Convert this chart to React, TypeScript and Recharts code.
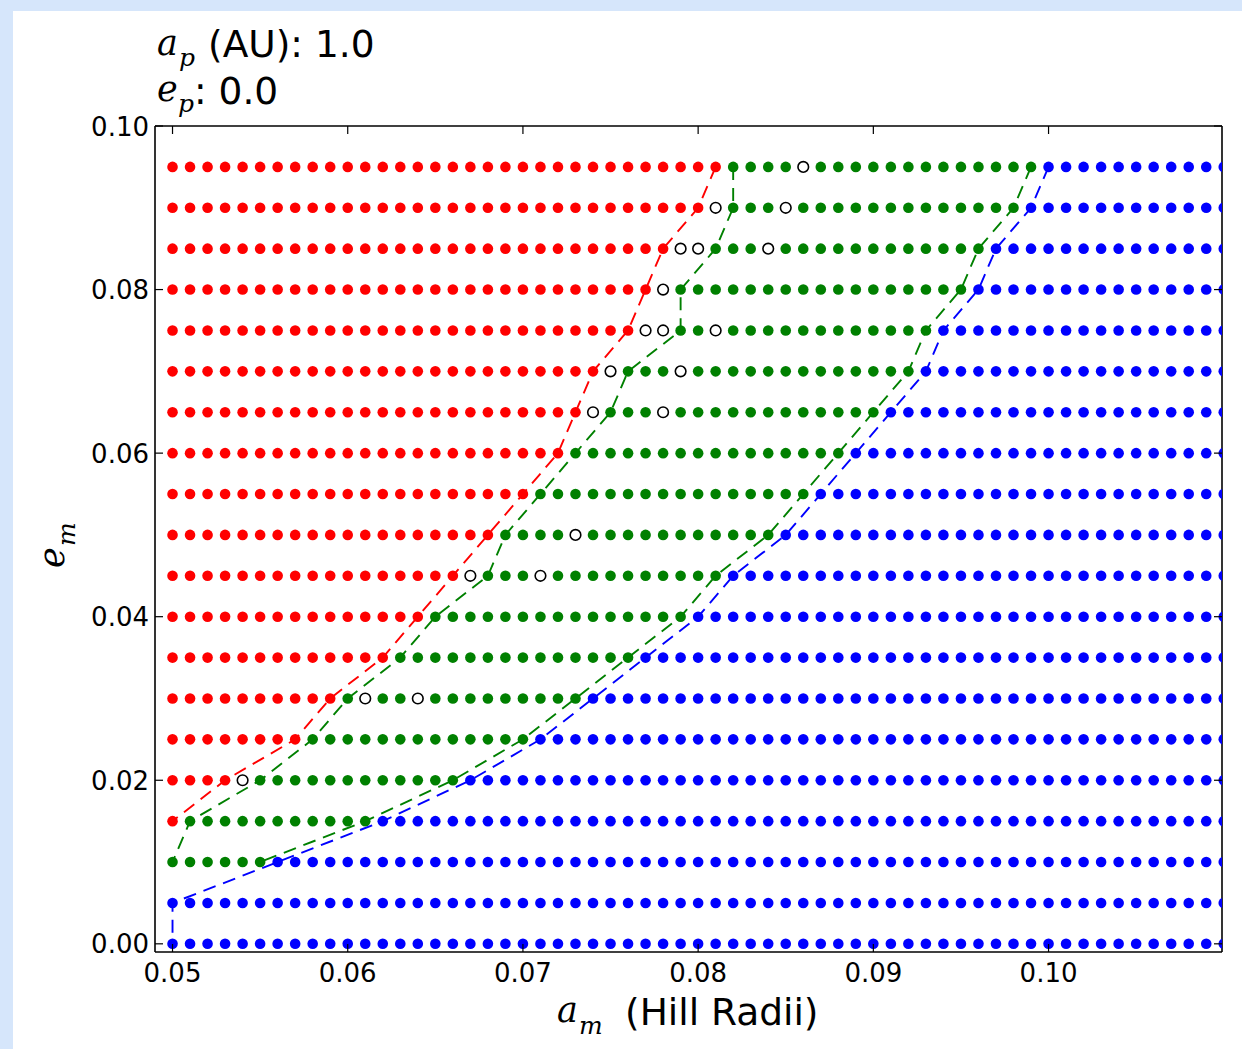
import { ScatterChart, Scatter, XAxis, YAxis } from 'recharts';

// eccentricity rows (top to bottom)
const eRows = [0.095, 0.09, 0.085, 0.08, 0.075, 0.07, 0.065, 0.06, 0.055, 0.05, 0.045, 0.04, 0.035, 0.03, 0.025, 0.02, 0.015, 0.01, 0.005, 0];

// sampled semi-major axes
const aGrid = [
  0.05, 0.051, 0.052, 0.053, 0.054, 0.055, 0.056, 0.057, 0.058, 0.059,
  0.06, 0.061, 0.062, 0.063, 0.064, 0.065, 0.066, 0.067, 0.068, 0.069,
  0.07, 0.071, 0.072, 0.073, 0.074, 0.075, 0.076, 0.077, 0.078, 0.079,
  0.08, 0.081, 0.082, 0.083, 0.084, 0.085, 0.086, 0.087, 0.088, 0.089,
  0.09, 0.091, 0.092, 0.093, 0.094, 0.095, 0.096, 0.097, 0.098, 0.099,
  0.1, 0.101, 0.102, 0.103, 0.104, 0.105, 0.106, 0.107, 0.108, 0.109, 0.11,
];

// per row: last unstable (red) a, first/last stable (green) a, first blue a
const redLast = [0.081, 0.08, 0.078, 0.077, 0.076, 0.074, 0.073, 0.072, 0.07, 0.068, 0.066, 0.064, 0.062, 0.059, 0.057, 0.053, 0.05, null, null, null];
const greenFirst = [0.082, 0.082, 0.081, 0.079, 0.079, 0.076, 0.075, 0.073, 0.071, 0.069, 0.068, 0.065, 0.063, 0.06, 0.058, 0.055, 0.051, 0.05, null, null];
const greenLast = [0.099, 0.098, 0.096, 0.095, 0.093, 0.092, 0.09, 0.088, 0.086, 0.084, 0.081, 0.079, 0.076, 0.073, 0.07, 0.066, 0.061, 0.055, null, null];
const blueFirst = [0.1, 0.099, 0.097, 0.096, 0.094, 0.093, 0.091, 0.089, 0.087, 0.085, 0.082, 0.08, 0.077, 0.074, 0.071, 0.067, 0.062, 0.056, 0.05, 0.05];

// undetermined runs (open circles)
const openCircles = [
  [0.086], [0.081, 0.085], [0.079, 0.08, 0.084], [0.078], [0.077, 0.078, 0.081],
  [0.075, 0.079], [0.074, 0.078], [], [], [0.073],
  [0.067, 0.071], [], [], [0.061, 0.064], [],
  [0.054], [], [], [], [],
];

const xTicks = [0.05, 0.06, 0.07, 0.08, 0.09, 0.1];
const yTicks = [0, 0.02, 0.04, 0.06, 0.08, 0.1];

type Pt = { x: number; y: number };

const k = (v: number) => Math.round(v * 1000);

function splitPoints() {
  const red: Pt[] = [];
  const green: Pt[] = [];
  const blue: Pt[] = [];
  const open: Pt[] = [];
  eRows.forEach((e, r) => {
    aGrid.forEach((a) => {
      const p = { x: a, y: e };
      const rl = redLast[r];
      if (rl !== null && k(a) <= k(rl)) red.push(p);
      else if (openCircles[r].some((o) => k(o) === k(a))) open.push(p);
      else if (k(a) >= k(blueFirst[r])) blue.push(p);
      else green.push(p);
    });
  });
  return { red, green, blue, open };
}

const edge = (xs: (number | null)[]): Pt[] =>
  eRows.flatMap((e, r) => (xs[r] === null ? [] : [{ x: xs[r] as number, y: e }]));

const dot = (fill: string, stroke = 'none') => (p: any) => (
  <circle cx={p.cx} cy={p.cy} r={5.3} fill={fill} stroke={stroke} strokeWidth={1.6} />
);
const noDot = () => <g />;

const RED = '#ff0000';
const GREEN = '#008000';
const BLUE = '#0000ff';
const FONT = '"DejaVu Sans", sans-serif';
const MATH = '"DejaVu Serif", serif';

// plot frame edges in chart pixels
const FRAME = { left: 155, right: 1222, top: 126, bottom: 952 };
const TICK = 8;

// inward ticks (matplotlib style) drawn by the tick renderers
const bottomTick = (p: any) => {
  const c = p.payload.coordinate;
  return (
    <g>
      <line x1={c} x2={c} y1={FRAME.bottom} y2={FRAME.bottom - TICK} stroke="#000" strokeWidth={1.2} />
      <text x={c} y={FRAME.bottom + 30} textAnchor="middle" fontSize={26} fontFamily={FONT} fill="#000">
        {p.payload.value.toFixed(2)}
      </text>
    </g>
  );
};
const topTick = (p: any) => {
  const c = p.payload.coordinate;
  return <line x1={c} x2={c} y1={FRAME.top} y2={FRAME.top + TICK} stroke="#000" strokeWidth={1.2} />;
};
const leftTick = (p: any) => {
  const c = p.payload.coordinate;
  return (
    <g>
      <line x1={FRAME.left} x2={FRAME.left + TICK} y1={c} y2={c} stroke="#000" strokeWidth={1.2} />
      <text x={FRAME.left - 6} y={c + 9.5} textAnchor="end" fontSize={26} fontFamily={FONT} fill="#000">
        {p.payload.value.toFixed(2)}
      </text>
    </g>
  );
};
const rightTick = (p: any) => {
  const c = p.payload.coordinate;
  return <line x1={FRAME.right} x2={FRAME.right - TICK} y1={c} y2={c} stroke="#000" strokeWidth={1.2} />;
};

export default function App() {
  const { red, green, blue, open } = splitPoints();
  const axisLine = { stroke: '#000', strokeWidth: 1.6 };
  const dash = (c: string) => ({ stroke: c, strokeWidth: 1.9, strokeDasharray: '13 8', fill: 'none' });

  return (
    <div style={{ position: 'absolute', left: 0, top: 0, width: 1242, height: 1049, background: '#d6e6fb' }}>
      <div style={{ position: 'absolute', left: 13, top: 11, right: 0, bottom: 0, background: '#fff' }} />
      <div style={{ position: 'absolute', left: 0, top: 0 }}>
        <ScatterChart width={1242} height={1049} margin={{ top: 125, right: 19, bottom: 7, left: 80 }}>
          <XAxis xAxisId="b" type="number" dataKey="x" domain={[0.049, 0.1099]} allowDataOverflow
            ticks={xTicks} interval={0} height={90} axisLine={axisLine} tickLine={false} tick={bottomTick} />
          <XAxis xAxisId="t" orientation="top" type="number" dataKey="x" domain={[0.049, 0.1099]} allowDataOverflow
            ticks={xTicks} interval={0} height={1} axisLine={axisLine} tickLine={false} tick={topTick} />
          <YAxis yAxisId="l" type="number" dataKey="y" domain={[-0.001, 0.1]} allowDataOverflow
            ticks={yTicks} interval={0} width={75} axisLine={axisLine} tickLine={false} tick={leftTick} />
          <YAxis yAxisId="r" orientation="right" type="number" dataKey="y" domain={[-0.001, 0.1]} allowDataOverflow
            ticks={yTicks} interval={0} width={1} axisLine={axisLine} tickLine={false} tick={rightTick} />

          <Scatter xAxisId="b" yAxisId="l" data={red} shape={dot(RED)} isAnimationActive={false} />
          <Scatter xAxisId="b" yAxisId="l" data={green} shape={dot(GREEN)} isAnimationActive={false} />
          <Scatter xAxisId="b" yAxisId="l" data={blue} shape={dot(BLUE)} isAnimationActive={false} />
          <Scatter xAxisId="b" yAxisId="l" data={open} shape={dot('#fff', '#000')} isAnimationActive={false} />

          <Scatter xAxisId="b" yAxisId="l" data={edge(redLast)} line={dash(RED)} shape={noDot} isAnimationActive={false} />
          <Scatter xAxisId="b" yAxisId="l" data={edge(greenFirst)} line={dash(GREEN)} shape={noDot} isAnimationActive={false} />
          <Scatter xAxisId="b" yAxisId="l" data={edge(greenLast)} line={dash(GREEN)} shape={noDot} isAnimationActive={false} />
          <Scatter xAxisId="b" yAxisId="l" data={edge(blueFirst)} line={dash(BLUE)} shape={noDot} isAnimationActive={false} />
        </ScatterChart>
      </div>

      <svg width={1242} height={1049} style={{ position: 'absolute', left: 0, top: 0, pointerEvents: 'none' }}>
        {/* header: planet semi-major axis and eccentricity */}
        <text x={157} y={55} fontFamily={MATH} fontStyle="italic" fontSize={35} fill="#000">a</text>
        <text x={179} y={66} fontFamily={MATH} fontStyle="italic" fontSize={25} fill="#000">p</text>
        <text x={208} y={57} fontFamily={FONT} fontSize={37.5} fill="#000">(AU): 1.0</text>
        <text x={157} y={101} fontFamily={MATH} fontStyle="italic" fontSize={35} fill="#000">e</text>
        <text x={178} y={112} fontFamily={MATH} fontStyle="italic" fontSize={25} fill="#000">p</text>
        <text x={194} y={104} fontFamily={FONT} fontSize={37.5} fill="#000">: 0.0</text>

        {/* x axis title */}
        <text x={557} y={1022} fontFamily={MATH} fontStyle="italic" fontSize={35} fill="#000">a</text>
        <text x={579} y={1034} fontFamily={MATH} fontStyle="italic" fontSize={25} fill="#000">m</text>
        <text x={625} y={1025} fontFamily={FONT} fontSize={37.5} fill="#000">(Hill Radii)</text>

        {/* y axis title */}
        <g transform="translate(64 568) rotate(-90)">
          <text x={0} y={0} fontFamily={MATH} fontStyle="italic" fontSize={35} fill="#000">e</text>
          <text x={22} y={11} fontFamily={MATH} fontStyle="italic" fontSize={25} fill="#000">m</text>
        </g>
      </svg>
    </div>
  );
}
